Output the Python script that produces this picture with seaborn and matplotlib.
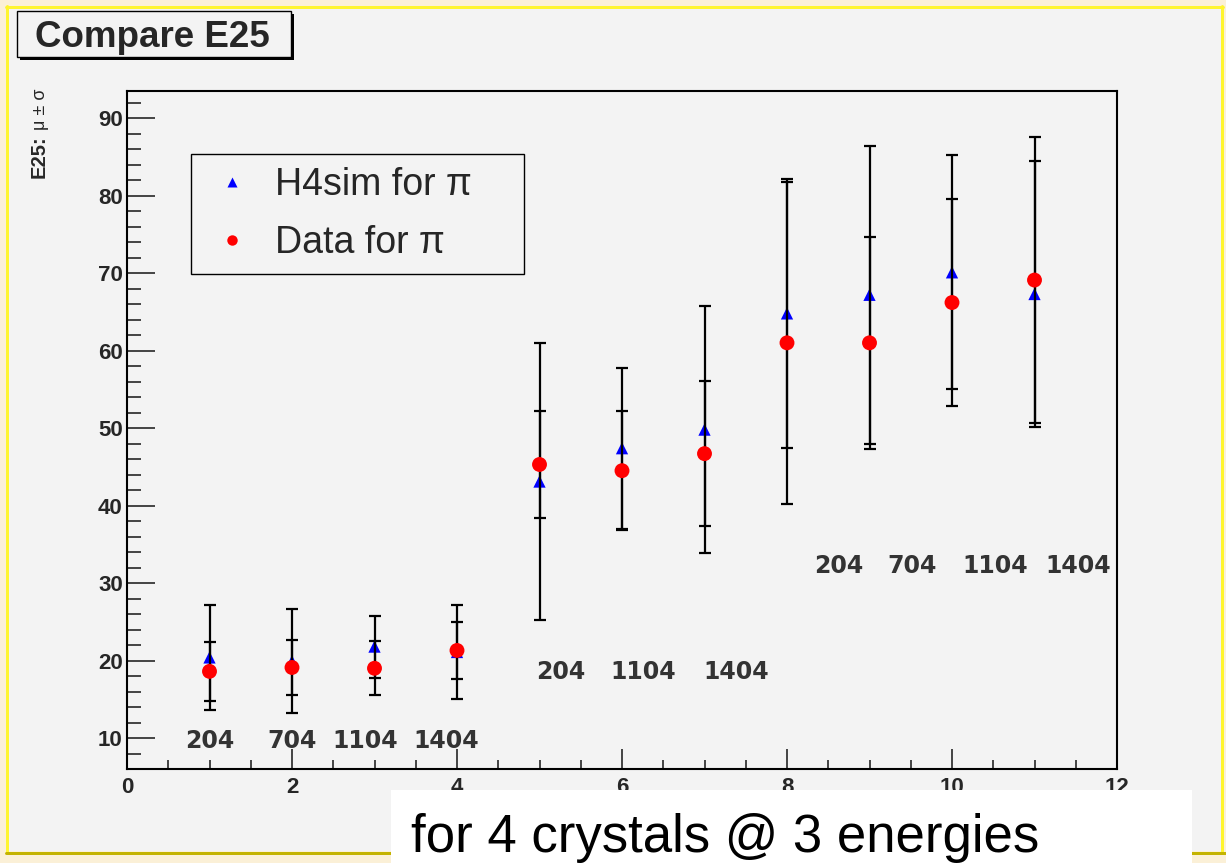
import matplotlib
matplotlib.use("Agg")
import matplotlib.pyplot as plt
import seaborn as sns
import pandas as pd
from matplotlib.patches import Rectangle
from matplotlib.lines import Line2D
from matplotlib.ticker import MultipleLocator

# ---------------- data ----------------
point_index = [1, 2, 3, 4, 5, 6, 7, 8, 9, 10, 11]
sim_mean = [20.4, 19.9, 21.8, 21.1, 43.1, 47.4, 49.8, 64.8, 67.2, 70.1, 67.3]
sim_sigma = [6.8, 6.7, 4.0, 6.1, 17.9, 10.4, 15.9, 17.4, 19.2, 15.1, 17.2]
data_mean = [18.6, 19.1, 19.0, 21.3, 45.3, 44.5, 46.7, 61.0, 61.0, 66.2, 69.1]
data_sigma = [3.8, 3.6, 3.5, 3.7, 6.9, 7.7, 9.4, 20.8, 13.7, 13.4, 18.4]

series_labels = ["H4sim for π", "Data for π"]
crystal_labels = ["204", "704", "1104", "1404",
                  "204", "1104", "1404",
                  "204", "704", "1104", "1404"]
crystal_label_x = [1.0, 2.0, 2.89, 3.87, 5.26, 6.26, 7.38, 8.63, 9.52, 10.52, 11.53]
crystal_label_y = [8.7, 8.7, 8.7, 8.7, 17.6, 17.6, 17.6, 31.3, 31.3, 31.3, 31.3]

title_text = "Compare E25"
footer_text = "for 4 crystals @ 3 energies"

sim_df = pd.DataFrame({"x": point_index, "mean": sim_mean, "sigma": sim_sigma})
dat_df = pd.DataFrame({"x": point_index, "mean": data_mean, "sigma": data_sigma})

# ---------------- layout helpers ----------------
W, H = 1226, 863
def fx(px):
    return px / W
def fy(py):
    return 1 - py / H

sns.set_style("white")
plt.rcParams["font.family"] = ["Liberation Sans", "DejaVu Sans"]

fig = plt.figure(figsize=(W / 100, H / 100), dpi=100)
fig.patch.set_facecolor("#FBF0D7")

GREY = "#F3F3F3"
# canvas
fig.add_artist(Rectangle((fx(8), fy(851)), fx(1222) - fx(8), fy(9) - fy(851),
                         transform=fig.transFigure, facecolor=GREY,
                         edgecolor="none", zorder=-10))
lw_px = 3 * 72 / 100
fig.add_artist(Line2D([fx(6), fx(1223)], [fy(7.5), fy(7.5)], transform=fig.transFigure,
                      color="#FFF52E", lw=lw_px, zorder=-9))
fig.add_artist(Line2D([fx(7), fx(7)], [fy(6), fy(852)], transform=fig.transFigure,
                      color="#FFF52E", lw=lw_px, zorder=-9))
fig.add_artist(Line2D([fx(1222), fx(1222)], [fy(6), fy(852)], transform=fig.transFigure,
                      color="#FFF52E", lw=lw_px, zorder=-9))
fig.add_artist(Line2D([fx(6), fx(1226)], [fy(852.5), fy(852.5)], transform=fig.transFigure,
                      color="#C4B300", lw=lw_px, zorder=-9))

# ---------------- axes ----------------
ax = fig.add_axes([fx(127), fy(769), fx(1117) - fx(127), fy(91) - fy(769)])
ax.set_facecolor(GREY)

# simulation series: error bars then markers
ax.errorbar(sim_df["x"], sim_df["mean"], yerr=sim_df["sigma"], fmt="none",
            ecolor="black", elinewidth=1.6, capsize=4.3, capthick=1.6, zorder=2)
sns.scatterplot(data=sim_df, x="x", y="mean", ax=ax, marker="^", color="#0000FF",
                s=78, edgecolor="none", linewidth=0, zorder=3, legend=False)
# data series
ax.errorbar(dat_df["x"], dat_df["mean"], yerr=dat_df["sigma"], fmt="none",
            ecolor="black", elinewidth=1.6, capsize=4.3, capthick=1.6, zorder=4)
sns.scatterplot(data=dat_df, x="x", y="mean", ax=ax, marker="o", color="#FF0000",
                s=115, edgecolor="none", linewidth=0, zorder=5, legend=False)

ax.set_xlim(0, 12)
ax.set_ylim(6.0, 93.5)
ax.set_xlabel("")
ax.set_ylabel("")

for sp in ax.spines.values():
    sp.set_color("black")
    sp.set_linewidth(1.5)
    sp.set_visible(True)

ax.xaxis.set_major_locator(MultipleLocator(2))
ax.xaxis.set_minor_locator(MultipleLocator(0.5))
ax.yaxis.set_major_locator(MultipleLocator(10))
ax.yaxis.set_minor_locator(MultipleLocator(2))
ax.set_yticks([10, 20, 30, 40, 50, 60, 70, 80, 90])

ax.tick_params(axis="x", which="major", direction="in", length=14.4, width=1.2,
               pad=6.0, labelsize=16, bottom=True, top=False)
ax.tick_params(axis="x", which="minor", direction="in", length=6.5, width=1.2,
               bottom=True, top=False)
ax.tick_params(axis="y", which="major", direction="in", length=20, width=1.2,
               pad=3, labelsize=16, left=True, right=False)
ax.tick_params(axis="y", which="minor", direction="in", length=10, width=1.2,
               left=True, right=False)
for lab in ax.get_xticklabels() + ax.get_yticklabels():
    lab.set_fontweight("bold")

# crystal annotations
for t, xv, yv in zip(crystal_labels, crystal_label_x, crystal_label_y):
    ax.text(xv, yv, t, ha="center", va="baseline", fontsize=17,
            fontweight="bold", color="#333333", family=["DejaVu Sans"], zorder=6)

# y label
fig.text(fx(45), fy(178), "E25:", rotation=90, rotation_mode="anchor",
         ha="left", va="baseline", fontsize=14.5, fontweight="bold")
fig.text(fx(45), fy(89), "μ ± σ", rotation=90, rotation_mode="anchor",
         ha="right", va="baseline", fontsize=13)

# legend
handles = [Line2D([], [], marker="^", color="#0000FF", ls="", ms=6.5, mec="none"),
           Line2D([], [], marker="o", color="#FF0000", ls="", ms=7.5, mec="none")]
leg = fig.legend(handles, series_labels, loc="upper left",
                 bbox_to_anchor=(fx(191), fy(285), fx(524) - fx(191), fy(154) - fy(285)),
                 mode="expand", fontsize=27, frameon=True, fancybox=False,
                 borderpad=0.35, labelspacing=0.58, handlelength=1.5,
                 handletextpad=0.4, borderaxespad=0)
fr = leg.get_frame()
fr.set_facecolor(GREY)
fr.set_edgecolor("black")
fr.set_linewidth(1.0)
fr.set_alpha(1)

# title box with shadow
fig.add_artist(Rectangle((fx(20), fy(60)), fx(294) - fx(20), fy(14) - fy(60),
                         transform=fig.transFigure, facecolor="black",
                         edgecolor="none", zorder=3))
fig.add_artist(Rectangle((fx(17), fy(57)), fx(291) - fx(17), fy(11) - fy(57),
                         transform=fig.transFigure, facecolor=GREY,
                         edgecolor="black", lw=1.0, zorder=3.5))
fig.text(fx(35), fy(47), title_text, ha="left", va="baseline", fontsize=26.5,
         fontweight="bold", zorder=4)

# footer white box
fig.add_artist(Rectangle((fx(391), fy(870)), fx(1192) - fx(391), fy(790) - fy(870),
                         transform=fig.transFigure, facecolor="white",
                         edgecolor="none", zorder=10))
fig.text(fx(411), fy(852), footer_text, ha="left", va="baseline", fontsize=38,
         color="black", zorder=11)

fig.savefig("out.png", dpi=100, facecolor=fig.get_facecolor())
